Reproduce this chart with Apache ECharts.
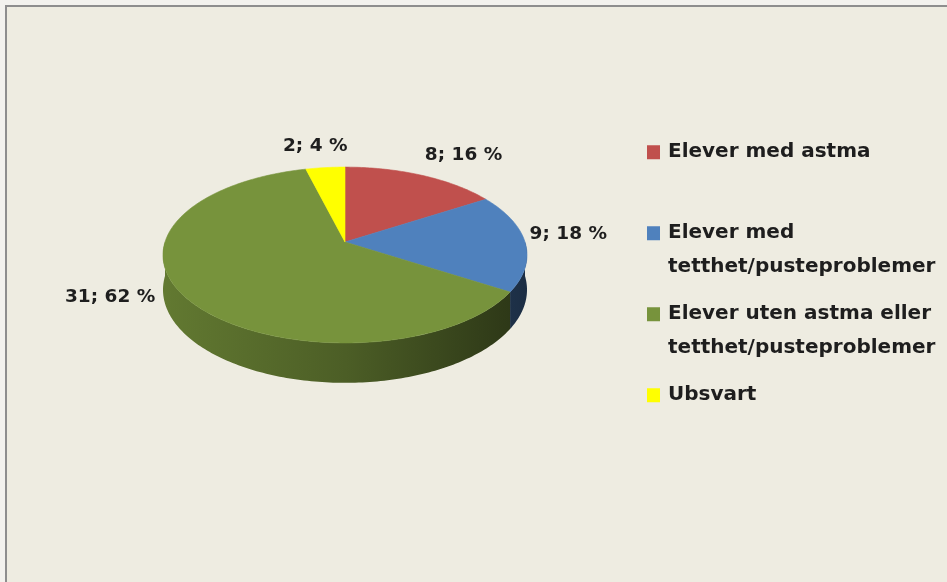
<!DOCTYPE html>
<html>
<head>
<meta charset="utf-8">
<script src="https://cdn.jsdelivr.net/npm/echarts@6/dist/echarts.min.js"></script>
<style>
  html, body { margin: 0; padding: 0; background: #f3f2ee; }
  #frame { position: absolute; left: 0; top: 0; width: 947px; height: 582px; background: #f3f2ee; overflow: hidden; }
  #chart { position: absolute; left: 5px; top: 5px; width: 942px; height: 577px;
           border-left: 2px solid #8e8e8e; border-top: 2px solid #8e8e8e; background: #EEECE1; }
</style>
</head>
<body>
<div id="frame"><div id="chart"></div></div>
<script>
// Survey answers: pupils with asthma / breathing problems
const categories = [
  'Elever med astma',
  'Elever med\ntetthet/pusteproblemer',
  'Elever uten astma eller\ntetthet/pusteproblemer',
  'Ubsvart'
];
const counts = [8, 9, 31, 2];
const palette = ['#C0504D', '#4F81BD', '#77933C', '#FFFF00'];

const total = counts.reduce((a, b) => a + b, 0);
const percents = counts.map(c => Math.round(c / total * 100));

// 3D pie geometry (chart pixel space), slices run clockwise from 12 o'clock
const PIE = { cx: 338, cy: 235, rx: 180, ry: 86, persp: 0.148, depth: 34 };
// data label placement: outward gap and plot-area bound
const LBL = { gx: 48, gy0: -8, gy1: -4, h: 20, maxRight: 600, font: 'bold 18.5px "DejaVu Sans"' };
const LEGEND_LINE = 33.5;

const measureCtx = document.createElement('canvas').getContext('2d');
measureCtx.font = LBL.font;

function project(theta, drop) {
  const u = Math.sin(theta), v = Math.cos(theta);
  const k = 1 / (1 + PIE.persp * v);
  return [PIE.cx + PIE.rx * u * k, PIE.cy - PIE.ry * v * k + drop * k];
}

function arc(a0, a1, drop) {
  const n = Math.max(2, Math.ceil((a1 - a0) / (Math.PI / 180)));
  const pts = [];
  for (let i = 0; i <= n; i++) pts.push(project(a0 + (a1 - a0) * i / n, drop));
  return pts;
}

function shade(hex, f) {
  const n = parseInt(hex.slice(1), 16);
  const r = Math.round(((n >> 16) & 255) * f);
  const g = Math.round(((n >> 8) & 255) * f);
  const b = Math.round((n & 255) * f);
  return 'rgb(' + r + ',' + g + ',' + b + ')';
}

function renderSlice(i) {
  return function (params, api) {
    const TAU = Math.PI * 2;
    const before = counts.slice(0, i).reduce((a, b) => a + b, 0);
    const a0 = before / total * TAU;
    const a1 = (before + api.value(0)) / total * TAU;
    const color = palette[i];
    const children = [];

    // outer wall on the front half of the disc
    const w0 = Math.max(a0, Math.PI / 2), w1 = Math.min(a1, Math.PI * 1.5);
    if (w1 > w0) {
      const pts = arc(w0, w1, 0).concat(arc(w0, w1, PIE.depth).reverse());
      children.push({
        type: 'polygon', z2: 1,
        shape: { points: pts },
        style: {
          fill: new echarts.graphic.LinearGradient(PIE.cx - PIE.rx, 0, PIE.cx + PIE.rx, 0, [
            { offset: 0, color: shade(color, 0.82) },
            { offset: 0.5, color: shade(color, 0.64) },
            { offset: 1, color: shade(color, 0.36) }
          ], true)
        }
      });
    }

    // top face
    children.push({
      type: 'polygon', z2: 10,
      shape: { points: [[PIE.cx, PIE.cy]].concat(arc(a0, a1, 0)) },
      style: { fill: color, stroke: color, lineWidth: 0.6 }
    });

    // data label "count; percent %" just outside the rim
    const text = api.value(0) + '; ' + percents[i] + ' %';
    const m = (a0 + a1) / 2;
    const u = Math.sin(m), v = Math.cos(m);
    const rim = project(m, 0);
    const w = measureCtx.measureText(text).width;
    let x = rim[0] + LBL.gx * u + u * w / 2;
    const y = rim[1] + LBL.gy0 + LBL.gy1 * v - v * LBL.h / 2;
    if (x + w / 2 > LBL.maxRight) x = LBL.maxRight - w / 2;
    children.push({
      type: 'text', z2: 20,
      style: { text: text, x: x, y: y, align: 'center', verticalAlign: 'middle', font: LBL.font, fill: '#1e1e1e' }
    });

    return { type: 'group', children: children };
  };
}

const chart = echarts.init(document.getElementById('chart'), null, { renderer: 'canvas' });
chart.setOption({
  animation: false,
  backgroundColor: '#EEECE1',
  legend: {
    orient: 'vertical',
    left: 640,
    top: 95,
    padding: 0,
    icon: 'rect',
    itemWidth: 13,
    itemHeight: 14,
    itemGap: 81 - 3 * LEGEND_LINE,
    selectedMode: false,
    // every entry takes three text rows so the swatch sits beside its first line
    formatter: name => name.indexOf('\n') >= 0 ? '\n' + name : '\n' + name + '\n',
    textStyle: {
      fontFamily: 'DejaVu Sans', fontWeight: 'bold', fontSize: 20, color: '#1e1e1e',
      lineHeight: LEGEND_LINE, backgroundColor: 'rgba(0,0,0,0)', padding: [0, 0, 0, 3]
    },
    data: categories
  },
  series: categories.map((name, i) => ({
    type: 'custom',
    name: name,
    coordinateSystem: 'none',
    silent: true,
    itemStyle: { color: palette[i] },
    data: [[counts[i]]],
    renderItem: renderSlice(i)
  }))
});
</script>
</body>
</html>
